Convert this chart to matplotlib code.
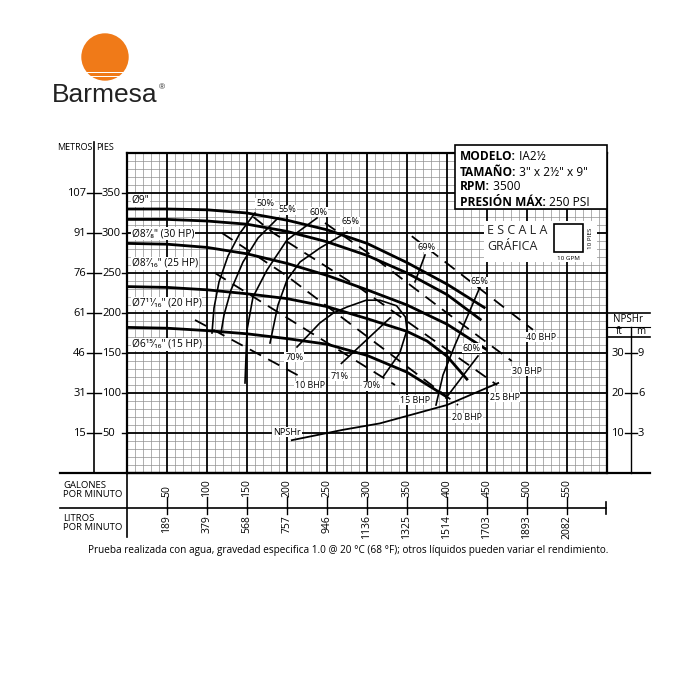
import numpy as np
import matplotlib.pyplot as plt
from matplotlib.patches import Circle, Rectangle
from matplotlib.transforms import blended_transform_factory

plt.rcParams['font.family'] = ['Open Sans', 'DejaVu Sans']

# ---------------- data (GPM / ft) ----------------
gpm_ticks = [50, 100, 150, 200, 250, 300, 350, 400, 450, 500, 550]
lpm_labels = ['189', '379', '568', '757', '946', '1136', '1325', '1514', '1703', '1893', '2082']
ft_ticks = [50, 100, 150, 200, 250, 300, 350]
m_labels = ['15', '31', '46', '61', '76', '91', '107']
npsh_ft_ticks = [10, 20, 30]
npsh_m_labels = ['3', '6', '9']

imp_labels = ['Ø9"', 'Ø8⁷⁄₈" (30 HP)', 'Ø8⁷⁄₁₆" (25 HP)', 'Ø7¹¹⁄₁₆" (20 HP)', 'Ø6¹⁵⁄₁₆" (15 HP)']
imp_label_h = [341, 299, 262, 212, 161]

q_900 = [0, 50, 100, 150, 200, 250, 300, 350, 400, 448]
h_900 = [330, 330, 329, 325, 316, 304, 287, 263, 236, 206]
q_878 = [0, 50, 100, 150, 200, 250, 300, 350, 400, 443]
h_878 = [317, 317, 315, 311, 302, 289, 272, 250, 223, 191]
q_8716 = [0, 50, 100, 150, 200, 250, 300, 350, 400, 450]
h_8716 = [287, 286, 282, 274, 262, 247, 229, 210, 186, 154]
q_71116 = [0, 50, 100, 150, 200, 250, 300, 350, 375, 400, 426]
h_71116 = [233, 232, 229, 224, 218, 208, 193, 177, 165, 146, 116]
q_61516 = [0, 50, 100, 150, 200, 250, 300, 350, 400]
h_61516 = [182, 181, 178, 174, 168, 161, 147, 126, 95]
heads = [(q_900, h_900), (q_878, h_878), (q_8716, h_8716), (q_71116, h_71116), (q_61516, h_61516)]

# efficiency lines
eff_lines = [
    ([160, 141.25, 126.25, 115, 108.75, 106.25], [325, 300, 271.25, 238.75, 206.25, 175]),      # 50%
    ([188.75, 163.75, 145, 130, 121.25, 117.5], [318.75, 293.75, 263.75, 228.75, 197.5, 175]),  # 55%
    ([237.5, 200, 175, 157.5, 150, 147.5], [318.75, 291.25, 253.75, 220, 178.75, 112.5]),       # 60%
    ([275, 241.25, 216.25, 200, 188.75, 178.75], [301.25, 281.25, 263.75, 241.25, 210, 162.5]), # 65%
    ([212.5, 241, 258, 275, 299, 316, 337, 348, 350, 341, 320],
     [157.5, 187.5, 200, 207.5, 216, 216, 209, 195, 179, 150, 120]),                            # 70%
    ([268, 329], [137, 194]),                                                                   # 71%
    ([372.5, 360], [272.5, 239]),                                                               # 69%
    ([441.25, 426.25, 410, 395, 386.25], [232.5, 197.5, 160, 122.5, 85]),                       # 65%
    ([438.75, 398.75], [146.25, 93.75]),                                                        # 60%
]
eff_text = ['50%', '55%', '60%', '65%', '69%', '65%', '60%', '70%', '71%', '70%']
eff_text_q = [172.5, 201, 239, 279, 375, 441, 431, 209, 266, 306]
eff_text_h = [337.5, 329, 326, 314, 282.5, 239, 156, 145, 121, 109]

# BHP lines
bhp_lines = [
    ([85, 220], [191.25, 118.75]),                        # 10
    ([110, 335], [250, 110]),                             # 15
    ([118.75, 197.5, 413.75], [300, 248, 85]),            # 20
    ([158, 183, 290, 462.5], [320, 300, 232, 110]),       # 25
    ([247.5, 300, 400, 481], [312.5, 276, 200, 140]),     # 30
    ([356, 507.5], [296, 179]),                           # 40
]
bhp_text = ['10 BHP', '15 BHP', '20 BHP', '25 BHP', '30 BHP', '40 BHP']
bhp_text_q = [229, 360, 425, 472, 500, 518]
bhp_text_h = [109, 91, 69, 95, 127.5, 170]

npsh_q = [206, 270, 316, 400, 464]
npsh_v = [8.2, 10.8, 12.4, 17, 22.5]

# ---------------- figure ----------------
fig = plt.figure(figsize=(7, 7), dpi=100)
fig.patch.set_facecolor('white')
W = 700.0
ax = fig.add_axes([127 / W, (W - 473) / W, 480 / W, 320 / W])
ax.set_xlim(0, 600)
ax.set_ylim(0, 400)
ax.set_xticks([])
ax.set_yticks([])
for v in range(0, 601, 10):
    if v % 50:
        ax.axvline(v, color='#8f8f8f', lw=0.5, zorder=0)
    else:
        ax.axvline(v, color='black', lw=1.3, zorder=0.5)
for v in range(0, 401, 10):
    if v % 50:
        ax.axhline(v, color='#8f8f8f', lw=0.5, zorder=0)
    else:
        ax.axhline(v, color='black', lw=1.3, zorder=0.5)
for s in ax.spines.values():
    s.set_linewidth(1.6)

for q, h in heads:
    ax.plot(q, h, color='black', lw=2.0, solid_capstyle='butt', solid_joinstyle='round', zorder=3)
for txt, y in zip(imp_labels, imp_label_h):
    ax.text(6, y, txt, fontsize=7.3, va='center', ha='left', zorder=4,
            bbox=dict(facecolor='white', edgecolor='none', pad=0.6))

for q, h in eff_lines:
    ax.plot(q, h, color='black', lw=1.2, solid_joinstyle='round', zorder=3)
for txt, q, h in zip(eff_text, eff_text_q, eff_text_h):
    ax.text(q, h, txt, fontsize=6.6, ha='center', va='center', zorder=4,
            bbox=dict(facecolor='white', edgecolor='none', pad=0.5))

for q, h in bhp_lines:
    ax.plot(q, h, color='black', lw=1.3, ls=(0, (7, 4.5)), zorder=3)
for txt, q, h in zip(bhp_text, bhp_text_q, bhp_text_h):
    ax.text(q, h, txt, fontsize=6.4, ha='center', va='center', zorder=4,
            bbox=dict(facecolor='white', edgecolor='none', pad=0.5))

ax2 = ax.twinx()
ax2.set_ylim(0, 80)
ax2.axis('off')
ax2.plot(npsh_q, npsh_v, color='black', lw=1.3)
ax.text(200, 51, 'NPSHr', fontsize=6.6, ha='center', va='center', zorder=4,
        bbox=dict(facecolor='white', edgecolor='none', pad=0.5))

# ---------------- overlay in pixel coords ----------------
ov = fig.add_axes([0, 0, 1, 1], zorder=5)
ov.set_xlim(0, W)
ov.set_ylim(W, 0)
ov.axis('off')
ov.patch.set_visible(False)
bx = blended_transform_factory(ax.transData, ov.transData)
by = blended_transform_factory(ov.transData, ax.transData)
by2 = blended_transform_factory(ov.transData, ax2.transData)

# logo
ov.add_patch(Circle((105, 57), 23.7, color='#F07A18', lw=0))
ov.add_patch(Rectangle((78, 71.8), 54, 1.6, color='white', lw=0))
ov.add_patch(Rectangle((78, 75.8), 54, 1.4, color='white', lw=0))
ov.text(52, 102, 'Barmesa', fontsize=19, family='Liberation Sans', va='baseline', ha='left', color='#222222')
ov.text(159, 88, '®', fontsize=6, family='Liberation Sans', va='center', ha='left', color='#222222')

# left axis
ov.plot([94, 94], [142, 473], color='black', lw=1.2)
ov.text(92, 147, 'METROS', fontsize=6.5, ha='right', va='center')
ov.text(96, 147, 'PIES', fontsize=6.5, ha='left', va='center')
for f, m in zip(ft_ticks, m_labels):
    ov.plot([87, 101], [f, f], color='black', lw=1.0, transform=by)
    ov.plot([122, 127], [f, f], color='black', lw=1.0, transform=by)
    ov.text(86, f, m, fontsize=8, ha='right', va='center', transform=by)
    ov.text(102, f, str(f), fontsize=8, ha='left', va='center', transform=by)

# bottom axes
ov.plot([60, 650], [473, 473], color='black', lw=1.6)
ov.plot([60, 606], [508, 508], color='black', lw=1.2)
ov.plot([606, 606], [502, 514], color='black', lw=1.2)
ov.plot([127, 127], [473, 537], color='black', lw=1.2)
ov.text(63, 490, 'GALONES\nPOR MINUTO', fontsize=6.8, ha='left', va='center', linespacing=1.0)
ov.text(63, 523, 'LITROS\nPOR MINUTO', fontsize=6.8, ha='left', va='center', linespacing=1.0)
for g, l in zip(gpm_ticks, lpm_labels):
    ov.plot([g, g], [497, 508], color='black', lw=1.0, transform=bx)
    ov.plot([g, g], [508, 514], color='black', lw=1.0, transform=bx)
    ov.text(g, 497, str(g), rotation=90, fontsize=7.5, ha='center', va='bottom', transform=bx)
    ov.text(g, 515, l, rotation=90, fontsize=7.5, ha='center', va='top', transform=bx)
ov.text(348, 551, 'Prueba realizada con agua, gravedad especifica 1.0 @ 20 °C (68 °F); otros líquidos pueden variar el rendimiento.',
        fontsize=7.2, ha='center', va='center')

# NPSHr panel
ov.plot([607, 650], [313, 313], color='black', lw=1.2)
ov.plot([607, 650], [326.5, 326.5], color='black', lw=0.8)
ov.plot([607, 650], [336.5, 336.5], color='black', lw=1.2)
ov.plot([631, 631], [326.5, 473], color='black', lw=1.0)
ov.text(628, 320, 'NPSHr', fontsize=7, ha='center', va='center')
ov.text(619, 331.5, 'ft', fontsize=7, ha='center', va='center')
ov.text(641, 331.5, 'm', fontsize=7, ha='center', va='center')
for f, m in zip(npsh_ft_ticks, npsh_m_labels):
    ov.plot([625, 637], [f, f], color='black', lw=1.0, transform=by2)
    ov.text(624, f, str(f), fontsize=8, ha='right', va='center', transform=by2)
    ov.text(638, f, m, fontsize=8, ha='left', va='center', transform=by2)

# model box
ov.add_patch(Rectangle((455, 145), 152, 64, facecolor='white', edgecolor='black', lw=1.2))
rows = [('MODELO:', ' IA2½'), ('TAMAÑO:', ' 3" x 2½" x 9"'), ('RPM:', ' 3500'), ('PRESIÓN MÁX:', ' 250 PSI')]
for i, (b, r) in enumerate(rows):
    t = ov.text(460, 157 + i * 15, b, fontsize=8.6, fontweight='bold', ha='left', va='center')
    ov.annotate(r, xy=(1, 0.5), xycoords=t, fontsize=8.6, ha='left', va='center')

# graphic scale
ov.add_patch(Rectangle((484, 221), 113, 41, facecolor='white', edgecolor='none'))
ov.text(487, 230, 'E S C A L A', fontsize=9, ha='left', va='center', color='#222222')
ov.text(487, 247, 'GRÁFICA', fontsize=9, ha='left', va='center', color='#222222')
ov.add_patch(Rectangle((554, 224), 29, 28, facecolor='white', edgecolor='black', lw=1.2))
ov.text(568.5, 258, '10 GPM', fontsize=4.5, ha='center', va='center')
ov.text(590, 238, '10 PIES', fontsize=4.5, ha='center', va='center', rotation=90)

fig.savefig('out.png', dpi=100)
